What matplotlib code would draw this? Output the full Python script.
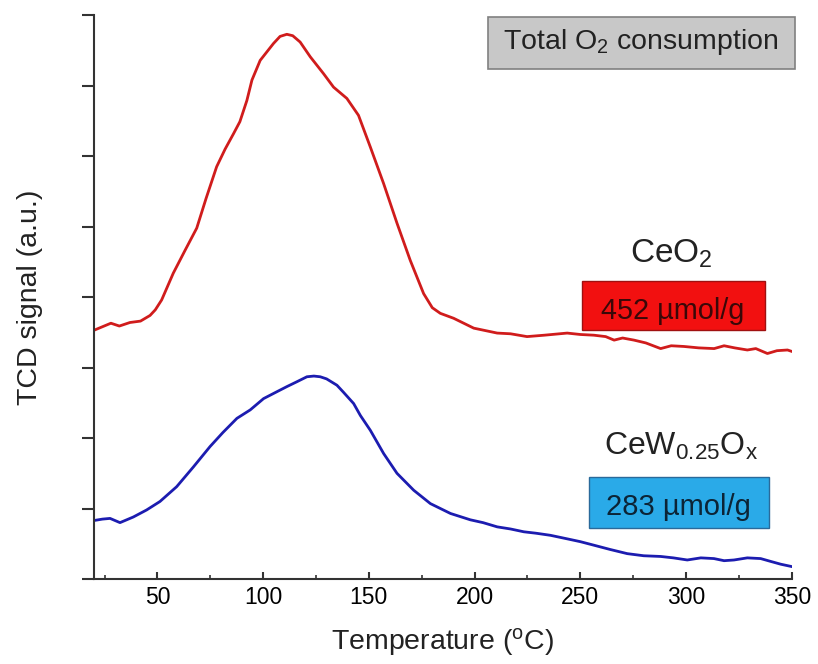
import matplotlib
matplotlib.use('Agg')
from matplotlib import pyplot as plt
from matplotlib.patches import Rectangle

plt.rcParams['font.family'] = ['Liberation Sans', 'DejaVu Sans']
plt.rcParams['mathtext.fontset'] = 'custom'
plt.rcParams['mathtext.rm'] = 'Liberation Sans'
plt.rcParams['mathtext.it'] = 'Liberation Sans'

# CeO2 trace
ceo2_temp = [20, 24, 28, 32, 37, 42, 46.5, 49, 52, 57.5, 63, 68.6, 73, 78, 82, 86, 89, 92.3, 94.7, 98.6,
             104.9, 108, 111.2, 114, 117.5, 122.3, 128.6, 133.3, 139.6, 145.1, 150.7, 157, 163.3, 169.6,
             175.9, 180, 183.8, 190.1, 199.6, 210.7, 217, 224.8, 233, 243.8, 250, 256.4, 262, 266, 270,
             275.4, 281, 288, 293, 299, 306, 313.3, 318, 323, 329, 333, 338.5, 343, 348, 351]
ceo2_signal = [3.53, 3.58, 3.63, 3.59, 3.64, 3.66, 3.74, 3.82, 3.96, 4.34, 4.66, 4.98, 5.40, 5.85, 6.10,
               6.32, 6.49, 6.79, 7.08, 7.36, 7.60, 7.70, 7.73, 7.71, 7.62, 7.41, 7.17, 6.98, 6.82, 6.58,
               6.13, 5.61, 5.05, 4.52, 4.05, 3.85, 3.77, 3.70, 3.56, 3.49, 3.48, 3.44, 3.46, 3.49, 3.47,
               3.46, 3.44, 3.39, 3.42, 3.39, 3.35, 3.27, 3.31, 3.30, 3.28, 3.27, 3.31, 3.28, 3.25, 3.27,
               3.20, 3.24, 3.25, 3.22]

# CeW0.25Ox trace
cew_temp = [20, 24, 27.6, 32.3, 38.6, 44.9, 51.2, 59.1, 67, 74.9, 81, 87.6, 93.9, 100.2, 106, 111.2, 116,
            120.7, 124, 127, 130, 134.9, 138, 142.8, 146, 150.7, 157, 163.3, 171.2, 179.1, 188.6, 198,
            204, 210.7, 217, 223.3, 229, 235.9, 243.8, 250, 256.4, 264, 272.2, 280, 288, 294, 300.6,
            307, 313.2, 318, 322.7, 329, 335.3, 340, 344.8, 351]
cew_signal = [0.83, 0.85, 0.86, 0.80, 0.88, 0.98, 1.10, 1.31, 1.59, 1.88, 2.08, 2.28, 2.40, 2.56, 2.65,
              2.73, 2.80, 2.87, 2.88, 2.87, 2.84, 2.75, 2.65, 2.49, 2.32, 2.11, 1.78, 1.50, 1.26, 1.07,
              0.93, 0.84, 0.80, 0.74, 0.71, 0.67, 0.65, 0.62, 0.57, 0.53, 0.48, 0.42, 0.36, 0.33, 0.32,
              0.30, 0.27, 0.30, 0.29, 0.26, 0.27, 0.30, 0.29, 0.25, 0.21, 0.17]

x_ticks = [50, 100, 150, 200, 250, 300, 350]
uptake_ceo2 = '452 \u00b5mol/g'
uptake_cew = '283 \u00b5mol/g'

fig = plt.figure(figsize=(8.18, 6.64), dpi=100)
ax = fig.add_axes([0.1149, 0.128, 0.853, 0.849])

ax.plot(ceo2_temp, ceo2_signal, color='#d01c1c', lw=2.0)
ax.plot(cew_temp, cew_signal, color='#1c1cb0', lw=2.0)

ax.set_xlim(20, 350)
ax.set_ylim(0, 8)
ax.set_xticks(x_ticks)
ax.set_xticks([25, 75, 125, 175, 225, 275, 325], minor=True)
ax.set_yticks(range(0, 9))
ax.set_yticklabels([])

for side in ['top', 'right']:
    ax.spines[side].set_visible(False)
for side in ['left', 'bottom']:
    ax.spines[side].set_linewidth(1.5)
    ax.spines[side].set_color('#333333')

ax.tick_params(axis='x', which='major', direction='in', length=5, width=1.5, color='#333333',
               labelsize=16.5, pad=5)
ax.tick_params(axis='x', which='minor', direction='in', length=3, width=1.2, color='#333333')
ax.tick_params(axis='y', which='major', direction='out', length=9, width=1.5, color='#333333')

ax.set_xlabel('Temperature ($\\mathregular{^o}$C)', fontsize=20.5, labelpad=12, color='#222222')
ax.set_ylabel('TCD signal (a.u.)', fontsize=20.5, labelpad=24, color='#222222')

# annotation boxes
ax.add_patch(Rectangle((0.5645, 0.904), 0.4395, 0.0925, transform=ax.transAxes, facecolor='#c8c8c8',
                       edgecolor='#808080', lw=1.2, clip_on=False))
ax.text(0.784, 0.9397, 'Total O$\\mathregular{_2}$ consumption', transform=ax.transAxes, ha='center',
        va='baseline', fontsize=20.5, color='#222222')

ax.text(0.828, 0.562, 'CeO$\\mathregular{_2}$', transform=ax.transAxes, ha='center', va='baseline',
        fontsize=24, color='#222222')
ax.add_patch(Rectangle((0.699, 0.4415), 0.262, 0.0865, transform=ax.transAxes, facecolor='#f21010',
                       edgecolor='#a01010', lw=1.0, clip_on=False))
ax.text(0.830, 0.461, uptake_ceo2, transform=ax.transAxes, ha='center', va='baseline',
        fontsize=20.8, color='#3a0808')

ax.text(0.842, 0.22, 'CeW$\\mathregular{_{0.25}}$O$\\mathregular{_x}$', transform=ax.transAxes,
        ha='center', va='baseline', fontsize=23, color='#222222')
ax.add_patch(Rectangle((0.709, 0.090), 0.258, 0.091, transform=ax.transAxes, facecolor='#2aaae8',
                       edgecolor='#2a6a9a', lw=1.0, clip_on=False))
ax.text(0.838, 0.1135, uptake_cew, transform=ax.transAxes, ha='center', va='baseline',
        fontsize=21, color='#0c2436')

fig.savefig('out.png', dpi=100)
